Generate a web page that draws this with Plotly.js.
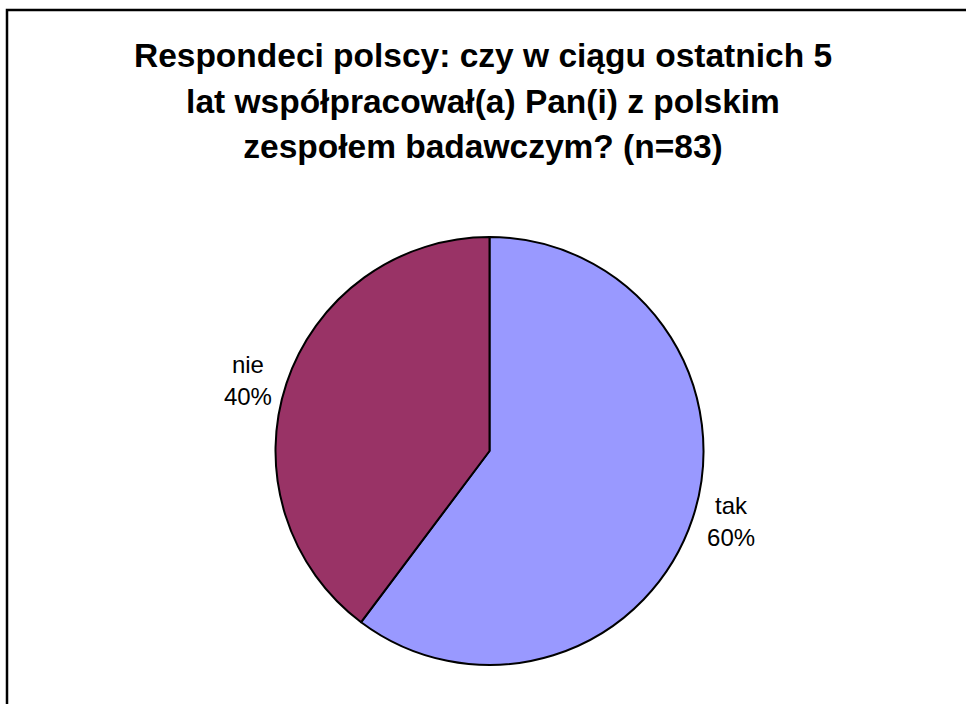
<!DOCTYPE html>
<html>
<head>
<meta charset="utf-8">
<script src="https://cdn.plot.ly/plotly-3.0.1.min.js"></script>
<style>html,body{margin:0;padding:0;background:#fff;}#chart{width:966px;height:704px;}</style>
</head>
<body>
<div id="chart"></div>
<script>
var categories = ['tak', 'nie'];
var counts = [50, 33];
var sliceColors = ['#9999FF', '#993366'];
var titleLines = ['Respondeci polscy: czy w ciągu ostatnich 5', 'lat współpracował(a) Pan(i) z polskim', 'zespołem badawczym? (n=83)'];

var W = 966, H = 704;
var cx = 489.5, cy = 451, R = 214;

var trace = {
  type: 'pie',
  labels: categories,
  values: counts,
  sort: false,
  direction: 'clockwise',
  rotation: 0,
  marker: {colors: sliceColors, line: {color: '#000000', width: 2}},
  textposition: 'outside',
  texttemplate: '%{label}<br>%{percent:.0%}',
  textfont: {family: 'Liberation Sans, Arial, sans-serif', size: 24, color: '#000000'},
  hoverinfo: 'label+percent',
  showlegend: false,
  automargin: false,
  domain: {x: [(cx - R) / W, (cx + R) / W], y: [1 - (cy + R) / H, 1 - (cy - R) / H]}
};

var layout = {
  width: W, height: H,
  margin: {l: 0, r: 0, t: 0, b: 0},
  paper_bgcolor: '#ffffff',
  plot_bgcolor: '#ffffff',
  showlegend: false,
  title: {
    text: titleLines.map(function (s) { return '<span style="font-size:33.5px">' + s + '</span>'; }).join('<br>'),
    font: {family: 'Liberation Sans, Arial, sans-serif', size: 35, color: '#000000', weight: 'bold'},
    x: 0.5, xanchor: 'center', xref: 'paper',
    y: 1 - 67 / H, yanchor: 'top', yref: 'container'
  },
  shapes: [{
    type: 'rect', xref: 'paper', yref: 'paper',
    x0: 7 / W, x1: 1.02, y0: -0.02, y1: 1 - 10 / H,
    line: {color: '#000000', width: 2.5}, fillcolor: 'rgba(0,0,0,0)'
  }]
};

Plotly.newPlot('chart', [trace], layout, {displayModeBar: false, staticPlot: true});
</script>
</body>
</html>
